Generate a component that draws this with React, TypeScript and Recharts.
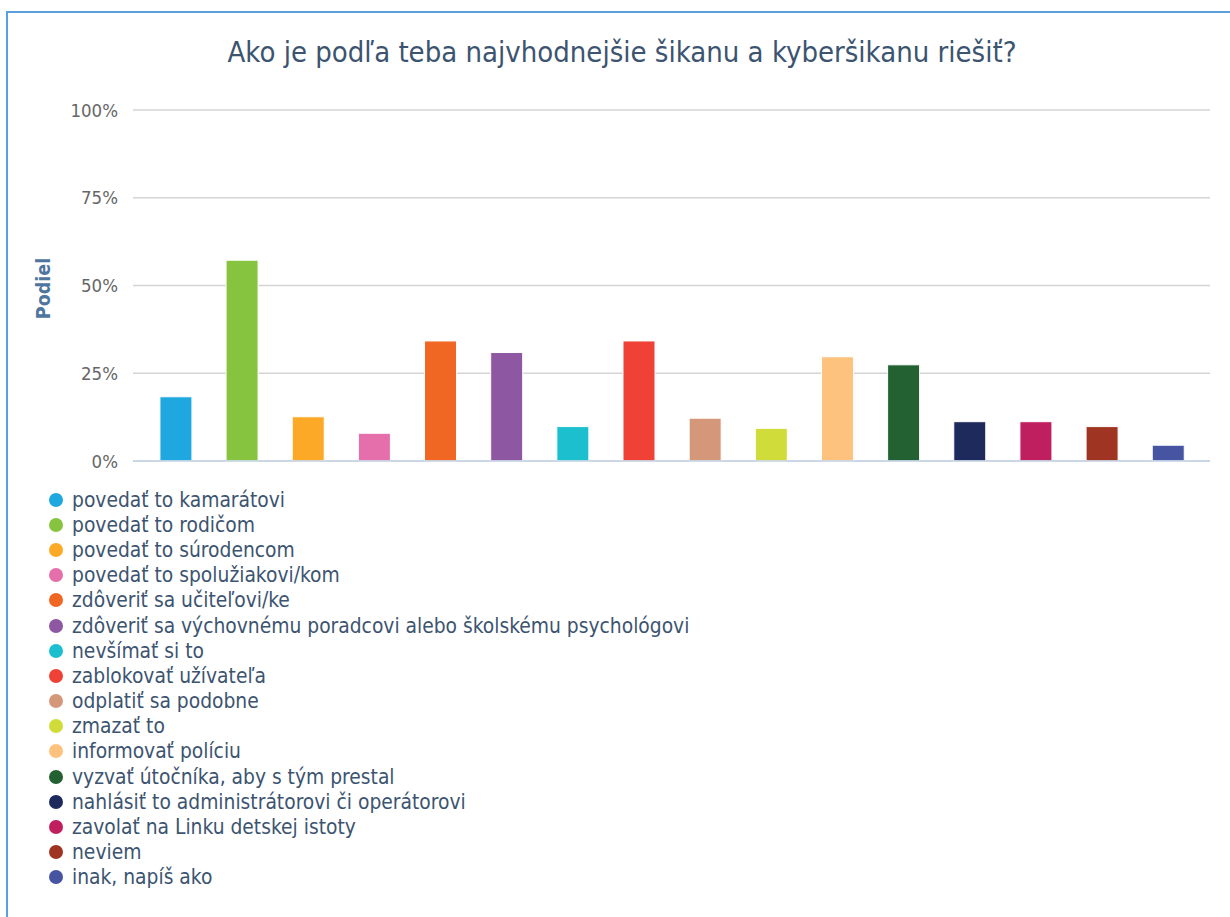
import React from 'react';
import { BarChart, Bar, XAxis, YAxis, CartesianGrid, Cell, Label } from 'recharts';

const categories = [
  'povedať to kamarátovi',
  'povedať to rodičom',
  'povedať to súrodencom',
  'povedať to spolužiakovi/kom',
  'zdôveriť sa učiteľovi/ke',
  'zdôveriť sa výchovnému poradcovi alebo školskému psychológovi',
  'nevšímať si to',
  'zablokovať užívateľa',
  'odplatiť sa podobne',
  'zmazať to',
  'informovať políciu',
  'vyzvať útočníka, aby s tým prestal',
  'nahlásiť to administrátorovi či operátorovi',
  'zavolať na Linku detskej istoty',
  'neviem',
  'inak, napíš ako',
];

const shares = [18.3, 57.2, 12.6, 7.9, 34.2, 30.9, 9.8, 34.2, 12.2, 9.3, 29.7, 27.4, 11.2, 11.2, 9.8, 4.5];

const colors = [
  '#1fa8e0', '#86c440', '#fba926', '#e56fab', '#f06724', '#8e57a1', '#1bbfce', '#ef4136',
  '#d4977a', '#cfdc3a', '#fdc27d', '#236132', '#1f2a5c', '#c01f5f', '#9e3421', '#4654a2',
];

const yTicks = [0, 25, 50, 75, 100];
const xTicks = [0, 2.5, 5, 7.5, 10, 12.5, 15];

const title = 'Ako je podľa teba najvhodnejšie šikanu a kyberšikanu riešiť?';
const yTitle = 'Podiel';

const data = categories.map((name, i) => ({ idx: i, name, value: shares[i] }));

const font = '"DejaVu Sans Condensed", "DejaVu Sans", sans-serif';

export default function App() {
  return (
    <div style={{ position: 'absolute', left: 0, top: 0, width: 1230, height: 917, overflow: 'hidden', background: '#fff', fontFamily: font }}>
      <div
        style={{
          position: 'absolute', left: 6, top: 11, width: 1260, height: 940,
          borderTop: '2px solid #5b9fdc', borderLeft: '2px solid #5b9fdc',
        }}
      />
      <div style={{ position: 'absolute', left: 0, top: 35, width: 1244, textAlign: 'center', fontSize: 29, color: '#3c5470' }}>
        {title}
      </div>
      <div style={{ position: 'absolute', left: 0, top: 0 }}>
        <BarChart width={1230} height={480} data={data} margin={{ top: 110, right: 20, bottom: 9, left: 0 }}>
          <CartesianGrid horizontal vertical={false} stroke="#d4d4d4" strokeWidth={1.6} />
          <XAxis
            dataKey="idx"
            type="number"
            domain={[-0.65, 15.63]}
            ticks={xTicks}
            tick={false}
            tickSize={7}
            height={10}
            stroke="#c4d4e6"
            strokeWidth={1.5}
          />
          <YAxis
            type="number"
            domain={[0, 100]}
            ticks={yTicks}
            width={133}
            axisLine={false}
            tickLine={false}
            tickSize={0}
            tickMargin={15}
            tickFormatter={(v: number) => `${v}%`}
            tick={{ fill: '#666666', fontSize: 18.5, fontFamily: font }}
          >
            <Label
              content={(props: any) => {
                const vb = props.viewBox || { x: 0, y: 110, width: 133, height: 351 };
                const cx = vb.x + 43;
                const cy = vb.y + vb.height / 2 + 3;
                return (
                  <text
                    x={cx}
                    y={cy}
                    transform={`rotate(-90, ${cx}, ${cy})`}
                    textAnchor="middle"
                    dominantBaseline="central"
                    fill="#4d759e"
                    fontWeight="bold"
                    fontSize={19.5}
                    fontFamily={font}
                  >
                    {yTitle}
                  </text>
                );
              }}
            />
          </YAxis>
          <Bar dataKey="value" barSize={32} stroke="#ffffff" strokeWidth={1} isAnimationActive={false}>
            {data.map((d, i) => (
              <Cell key={d.name} fill={colors[i]} />
            ))}
          </Bar>
        </BarChart>
      </div>
      <div style={{ position: 'absolute', left: 49, top: 487 }}>
        {categories.map((name, i) => (
          <div key={name} style={{ display: 'flex', alignItems: 'center', height: 25.2, fontSize: 20.8, color: '#3c5470', whiteSpace: 'nowrap' }}>
            <span style={{ display: 'inline-block', flex: 'none', width: 14, height: 14, borderRadius: 7, background: colors[i], marginRight: 9 }} />
            {name}
          </div>
        ))}
      </div>
    </div>
  );
}
